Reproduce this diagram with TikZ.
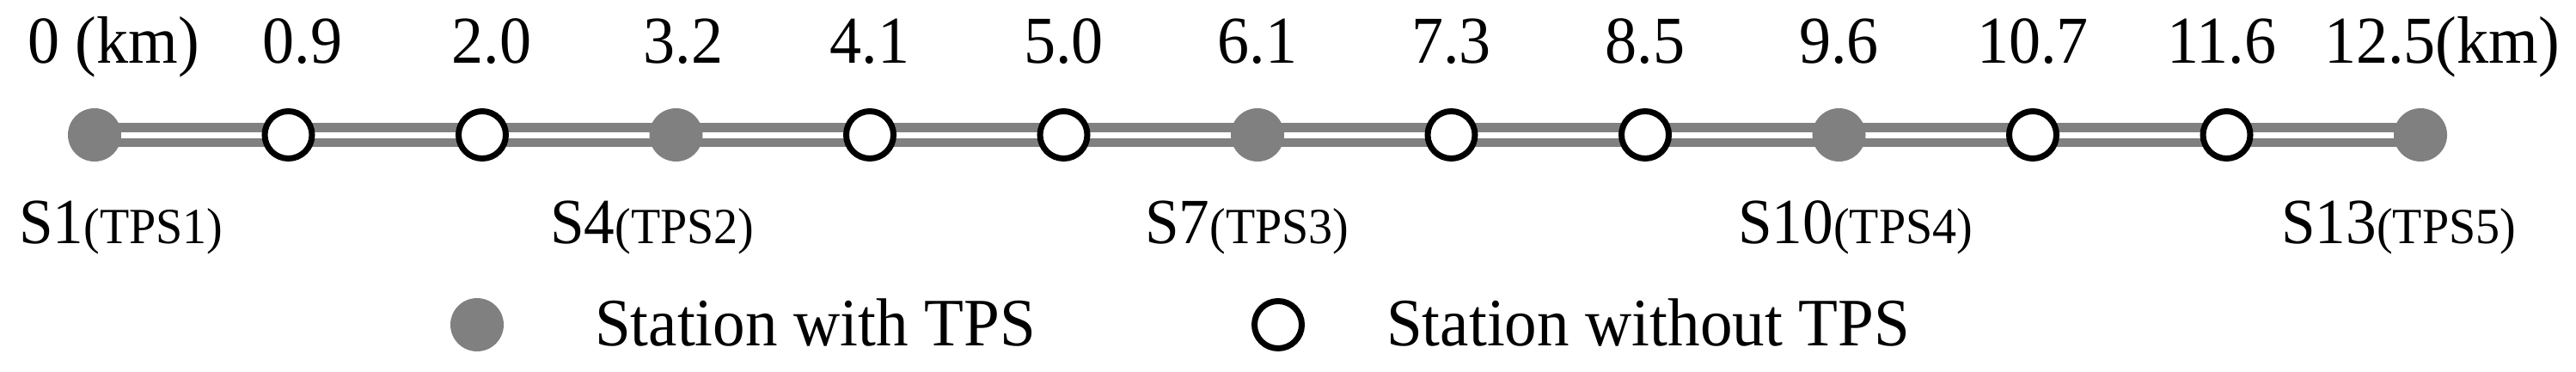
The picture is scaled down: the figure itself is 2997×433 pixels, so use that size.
\documentclass[tikz,border=0pt]{standalone}
\usepackage{fontspec}
\setmainfont{Liberation Serif}[FakeStretch=0.95]
\definecolor{railgray}{RGB}{128,128,128}
\pgfdeclarelayer{bg}
\pgfsetlayers{bg,main}
\begin{document}
\begin{tikzpicture}[x=1pt,y=-1pt,
  tps/.style={circle,fill=railgray,minimum size=62pt,inner sep=0pt},
  notps/.style={circle,draw=black,line width=7pt,fill=white,minimum size=55pt,inner sep=0pt},
  rail/.style={draw=railgray,line width=10pt},
  km/.style={anchor=base,inner sep=0pt,font=\fontsize{78}{94}\selectfont},
  sta/.style={anchor=base west,inner sep=0pt,font=\fontsize{75}{90}\selectfont},
  leg/.style={anchor=base west,inner sep=0pt,font=\fontsize{79}{95}\selectfont}]
\newcommand{\tpsl}[1]{{\fontsize{59}{70}\selectfont(#1)}}
\useasboundingbox (0,0) rectangle (2997,433);
% stations
\node[tps]   (s1)  at (110,157) {};
\node[notps] (s2)  at (335.5,157) {};
\node[notps] (s3)  at (561,157) {};
\node[tps]   (s4)  at (786.5,157) {};
\node[notps] (s5)  at (1012,157) {};
\node[notps] (s6)  at (1237.5,157) {};
\node[tps]   (s7)  at (1463,157) {};
\node[notps] (s8)  at (1688.5,157) {};
\node[notps] (s9)  at (1914,157) {};
\node[tps]   (s10) at (2139.5,157) {};
\node[notps] (s11) at (2365,157) {};
\node[notps] (s12) at (2590.5,157) {};
\node[tps]   (s13) at (2816,157) {};
\begin{pgfonlayer}{bg}
\draw[rail] ([yshift=8.5pt]s1.center) -- ([yshift=8.5pt]s13.center);
\draw[rail] ([yshift=-8.5pt]s1.center) -- ([yshift=-8.5pt]s13.center);
\end{pgfonlayer}
% km labels
\node[km,anchor=base west] (k1) at (32,74) {0 (km)};
\node[km] (k2)  at (352,74) {0.9};
\node[km] (k3)  at (572,74) {2.0};
\node[km] (k4)  at (795,74) {3.2};
\node[km] (k5)  at (1012,74) {4.1};
\node[km] (k6)  at (1237.5,74) {5.0};
\node[km] (k7)  at (1463,74) {6.1};
\node[km] (k8)  at (1688.5,74) {7.3};
\node[km] (k9)  at (1914,74) {8.5};
\node[km] (k10) at (2139.5,74) {9.6};
\node[km] (k11) at (2365,74) {10.7};
\node[km] (k12) at (2585,74) {11.6};
\node[km,anchor=base east] (k13) at (2978,74) {12.5(km)};
% station labels
\node[sta] (l1)  at (22,283)   {S1\tpsl{TPS1}};
\node[sta] (l4)  at (640,283)  {S4\tpsl{TPS2}};
\node[sta] (l7)  at (1332,283) {S7\tpsl{TPS3}};
\node[sta] (l10) at (2022,283) {S10\tpsl{TPS4}};
\node[sta] (l13) at (2654,283) {S13\tpsl{TPS5}};
% legend
\node[tps]   (g1) at (555,378) {};
\node[leg]   (t1) at (692,402) {Station with TPS};
\node[notps] (g2) at (1487,378) {};
\node[leg]   (t2) at (1613,402) {Station without TPS};
\end{tikzpicture}
\end{document}
